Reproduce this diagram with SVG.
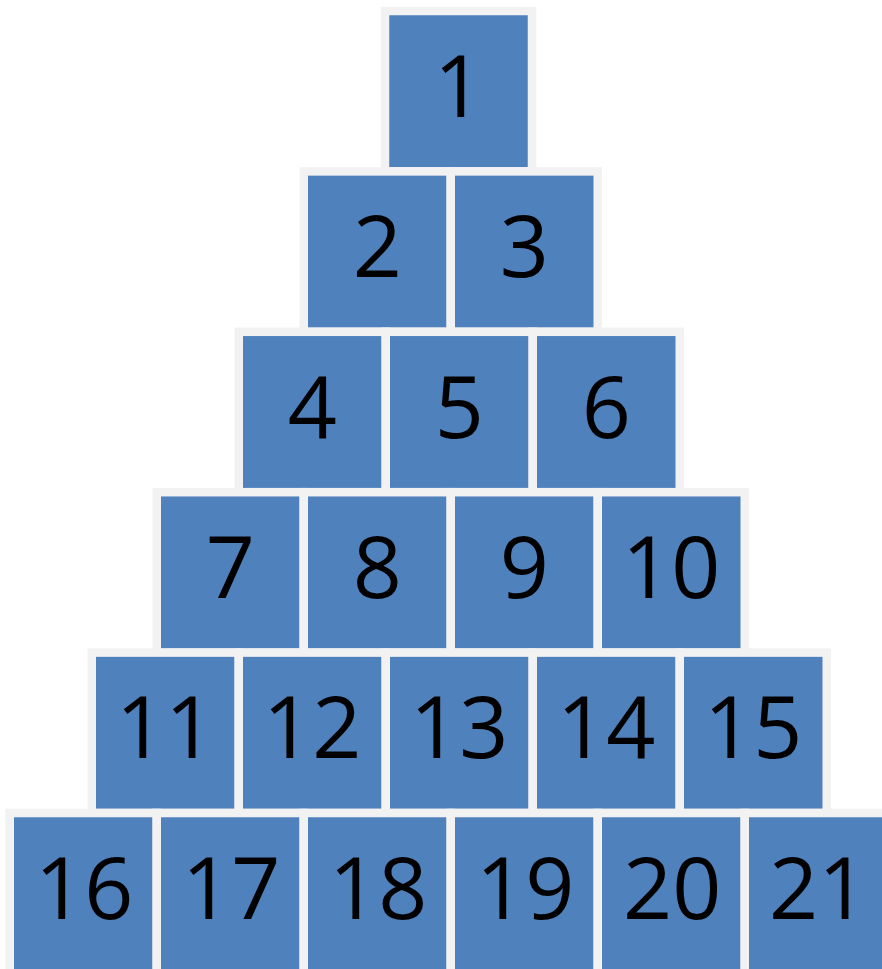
<svg xmlns="http://www.w3.org/2000/svg" width="882" height="969" viewBox="0 0 882 969">
<style>
.b rect{fill:#4F81BD;stroke:#F2F2F2;stroke-width:8.5}
.b text{font-family:"Open Sans","Liberation Sans",sans-serif;font-size:86px;fill:#000;text-anchor:middle}
</style>
<rect width="882" height="969" fill="#fff"/>
<g id="n1" class="b"><rect x="385" y="11" width="147" height="160.4"/><text x="458.5" y="116.7">1</text></g>
<g id="n2" class="b"><rect x="303.75" y="171.4" width="147" height="160.4"/><text x="377.25" y="277.1">2</text></g>
<g id="n3" class="b"><rect x="450.75" y="171.4" width="147" height="160.4"/><text x="524.25" y="277.1">3</text></g>
<g id="n4" class="b"><rect x="238.75" y="331.8" width="147" height="160.4"/><text x="312.25" y="437.5">4</text></g>
<g id="n5" class="b"><rect x="385.75" y="331.8" width="147" height="160.4"/><text x="459.25" y="437.5">5</text></g>
<g id="n6" class="b"><rect x="532.75" y="331.8" width="147" height="160.4"/><text x="606.25" y="437.5">6</text></g>
<g id="n7" class="b"><rect x="156.75" y="492.2" width="147" height="160.4"/><text x="230.25" y="597.9">7</text></g>
<g id="n8" class="b"><rect x="303.75" y="492.2" width="147" height="160.4"/><text x="377.25" y="597.9">8</text></g>
<g id="n9" class="b"><rect x="450.75" y="492.2" width="147" height="160.4"/><text x="524.25" y="597.9">9</text></g>
<g id="n10" class="b"><rect x="597.75" y="492.2" width="147" height="160.4"/><text x="671.25" y="597.9">10</text></g>
<g id="n11" class="b"><rect x="91.75" y="652.6" width="147" height="160.4"/><text x="165.25" y="758.3">11</text></g>
<g id="n12" class="b"><rect x="238.75" y="652.6" width="147" height="160.4"/><text x="312.25" y="758.3">12</text></g>
<g id="n13" class="b"><rect x="385.75" y="652.6" width="147" height="160.4"/><text x="459.25" y="758.3">13</text></g>
<g id="n14" class="b"><rect x="532.75" y="652.6" width="147" height="160.4"/><text x="606.25" y="758.3">14</text></g>
<g id="n15" class="b"><rect x="679.75" y="652.6" width="147" height="160.4"/><text x="753.25" y="758.3">15</text></g>
<g id="n16" class="b"><rect x="9.75" y="813" width="147" height="160.4"/><text x="84.25" y="918.5">16</text></g>
<g id="n17" class="b"><rect x="156.75" y="813" width="147" height="160.4"/><text x="231.25" y="918.5">17</text></g>
<g id="n18" class="b"><rect x="303.75" y="813" width="147" height="160.4"/><text x="378.25" y="918.5">18</text></g>
<g id="n19" class="b"><rect x="450.75" y="813" width="147" height="160.4"/><text x="525.25" y="918.5">19</text></g>
<g id="n20" class="b"><rect x="597.75" y="813" width="147" height="160.4"/><text x="672.25" y="918.5">20</text></g>
<g id="n21" class="b"><rect x="744.75" y="813" width="147" height="160.4"/><text x="818.25" y="918.5">21</text></g>
<g id="connectors"></g>
</svg>
